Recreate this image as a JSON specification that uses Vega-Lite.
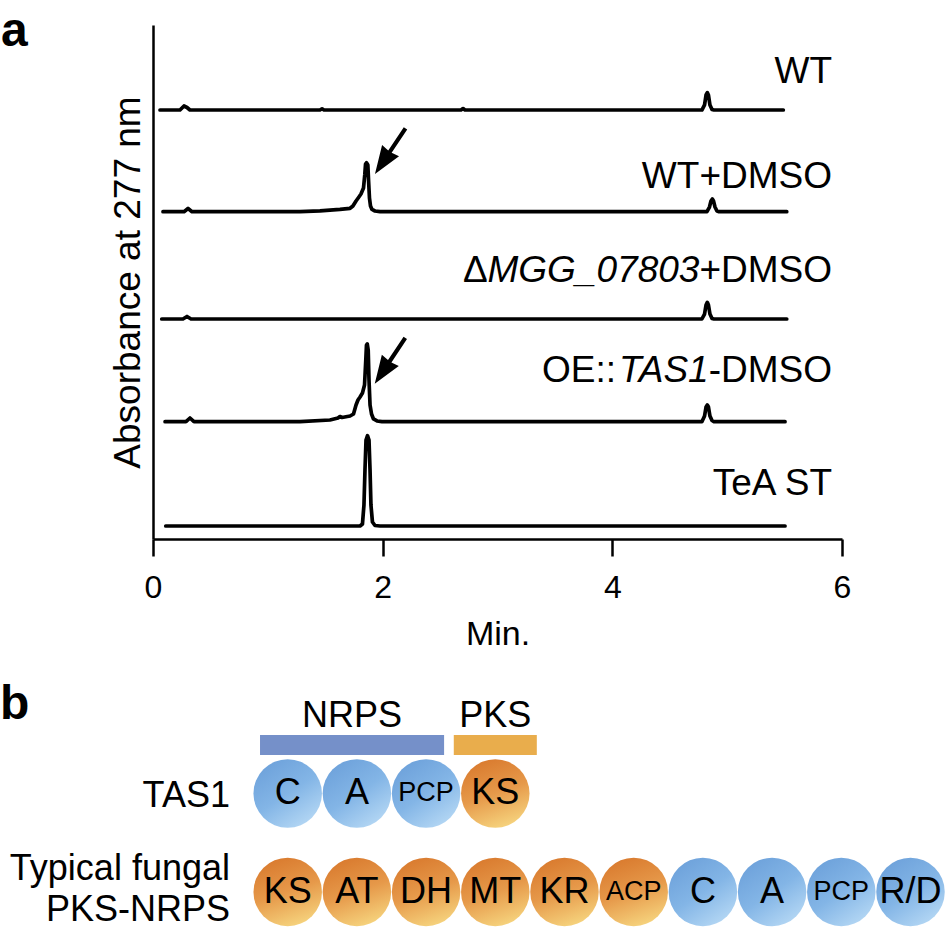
{
  "$schema": "https://vega.github.io/schema/vega-lite/v6.json",
  "padding": {"left": 0, "top": 8, "right": 0, "bottom": 0},
  "bounds": "flush",
  "spacing": 151,
  "config": {"font": "Liberation Sans", "view": {"stroke": null}, "axis": {"grid": false}},
  "datasets": {
    "traces": [
      {"sample": "WT", "t": 0.061, "v": 8.346}, {"sample": "WT", "t": 0.235, "v": 8.346}, {"sample": "WT", "t": 0.270, "v": 8.424}, {"sample": "WT", "t": 0.296, "v": 8.395}, {"sample": "WT", "t": 0.322, "v": 8.346}, {"sample": "WT", "t": 1.454, "v": 8.346}, {"sample": "WT", "t": 1.472, "v": 8.370}, {"sample": "WT", "t": 1.489, "v": 8.346}, {"sample": "WT", "t": 2.682, "v": 8.346}, {"sample": "WT", "t": 2.700, "v": 8.375}, {"sample": "WT", "t": 2.717, "v": 8.346}, {"sample": "WT", "t": 4.780, "v": 8.346}, {"sample": "WT", "t": 4.803, "v": 8.444}, {"sample": "WT", "t": 4.816, "v": 8.638}, {"sample": "WT", "t": 4.827, "v": 8.683}, {"sample": "WT", "t": 4.837, "v": 8.638}, {"sample": "WT", "t": 4.850, "v": 8.444}, {"sample": "WT", "t": 4.868, "v": 8.356}, {"sample": "WT", "t": 4.885, "v": 8.346}, {"sample": "WT", "t": 5.489, "v": 8.346},
      {"sample": "WT+DMSO", "t": 0.087, "v": 6.368}, {"sample": "WT+DMSO", "t": 0.270, "v": 6.368}, {"sample": "WT+DMSO", "t": 0.305, "v": 6.430}, {"sample": "WT+DMSO", "t": 0.340, "v": 6.368}, {"sample": "WT+DMSO", "t": 1.280, "v": 6.368}, {"sample": "WT+DMSO", "t": 1.454, "v": 6.385}, {"sample": "WT+DMSO", "t": 1.628, "v": 6.414}, {"sample": "WT+DMSO", "t": 1.716, "v": 6.434}, {"sample": "WT+DMSO", "t": 1.741, "v": 6.479}, {"sample": "WT+DMSO", "t": 1.768, "v": 6.576}, {"sample": "WT+DMSO", "t": 1.790, "v": 6.644}, {"sample": "WT+DMSO", "t": 1.811, "v": 6.712}, {"sample": "WT+DMSO", "t": 1.833, "v": 6.829}, {"sample": "WT+DMSO", "t": 1.844, "v": 7.082}, {"sample": "WT+DMSO", "t": 1.851, "v": 7.296}, {"sample": "WT+DMSO", "t": 1.859, "v": 7.321}, {"sample": "WT+DMSO", "t": 1.871, "v": 7.276}, {"sample": "WT+DMSO", "t": 1.877, "v": 6.984}, {"sample": "WT+DMSO", "t": 1.885, "v": 6.634}, {"sample": "WT+DMSO", "t": 1.894, "v": 6.479}, {"sample": "WT+DMSO", "t": 1.907, "v": 6.411}, {"sample": "WT+DMSO", "t": 1.933, "v": 6.381}, {"sample": "WT+DMSO", "t": 1.977, "v": 6.368}, {"sample": "WT+DMSO", "t": 4.824, "v": 6.368}, {"sample": "WT+DMSO", "t": 4.846, "v": 6.459}, {"sample": "WT+DMSO", "t": 4.859, "v": 6.576}, {"sample": "WT+DMSO", "t": 4.871, "v": 6.615}, {"sample": "WT+DMSO", "t": 4.881, "v": 6.576}, {"sample": "WT+DMSO", "t": 4.894, "v": 6.459}, {"sample": "WT+DMSO", "t": 4.911, "v": 6.381}, {"sample": "WT+DMSO", "t": 4.929, "v": 6.368}, {"sample": "WT+DMSO", "t": 5.519, "v": 6.368},
      {"sample": "dMGG", "t": 0.076, "v": 4.280}, {"sample": "dMGG", "t": 0.261, "v": 4.280}, {"sample": "dMGG", "t": 0.296, "v": 4.329}, {"sample": "dMGG", "t": 0.331, "v": 4.280}, {"sample": "dMGG", "t": 4.780, "v": 4.280}, {"sample": "dMGG", "t": 4.803, "v": 4.377}, {"sample": "dMGG", "t": 4.816, "v": 4.553}, {"sample": "dMGG", "t": 4.827, "v": 4.605}, {"sample": "dMGG", "t": 4.837, "v": 4.553}, {"sample": "dMGG", "t": 4.850, "v": 4.377}, {"sample": "dMGG", "t": 4.868, "v": 4.290}, {"sample": "dMGG", "t": 4.885, "v": 4.280}, {"sample": "dMGG", "t": 5.519, "v": 4.280},
      {"sample": "OE", "t": 0.105, "v": 2.282}, {"sample": "OE", "t": 0.287, "v": 2.282}, {"sample": "OE", "t": 0.322, "v": 2.354}, {"sample": "OE", "t": 0.357, "v": 2.282}, {"sample": "OE", "t": 1.280, "v": 2.282}, {"sample": "OE", "t": 1.541, "v": 2.315}, {"sample": "OE", "t": 1.611, "v": 2.354}, {"sample": "OE", "t": 1.628, "v": 2.383}, {"sample": "OE", "t": 1.646, "v": 2.364}, {"sample": "OE", "t": 1.716, "v": 2.393}, {"sample": "OE", "t": 1.746, "v": 2.432}, {"sample": "OE", "t": 1.768, "v": 2.607}, {"sample": "OE", "t": 1.785, "v": 2.704}, {"sample": "OE", "t": 1.803, "v": 2.763}, {"sample": "OE", "t": 1.824, "v": 2.840}, {"sample": "OE", "t": 1.842, "v": 2.996}, {"sample": "OE", "t": 1.853, "v": 3.482}, {"sample": "OE", "t": 1.859, "v": 3.774}, {"sample": "OE", "t": 1.866, "v": 3.794}, {"sample": "OE", "t": 1.874, "v": 3.677}, {"sample": "OE", "t": 1.881, "v": 3.093}, {"sample": "OE", "t": 1.890, "v": 2.607}, {"sample": "OE", "t": 1.903, "v": 2.432}, {"sample": "OE", "t": 1.920, "v": 2.335}, {"sample": "OE", "t": 1.951, "v": 2.296}, {"sample": "OE", "t": 1.994, "v": 2.282}, {"sample": "OE", "t": 4.780, "v": 2.282}, {"sample": "OE", "t": 4.803, "v": 2.393}, {"sample": "OE", "t": 4.816, "v": 2.568}, {"sample": "OE", "t": 4.827, "v": 2.607}, {"sample": "OE", "t": 4.837, "v": 2.568}, {"sample": "OE", "t": 4.850, "v": 2.393}, {"sample": "OE", "t": 4.868, "v": 2.305}, {"sample": "OE", "t": 4.885, "v": 2.282}, {"sample": "OE", "t": 5.504, "v": 2.282},
      {"sample": "TeA", "t": 0.111, "v": 0.253}, {"sample": "TeA", "t": 1.803, "v": 0.253}, {"sample": "TeA", "t": 1.824, "v": 0.292}, {"sample": "TeA", "t": 1.837, "v": 0.661}, {"sample": "TeA", "t": 1.846, "v": 1.342}, {"sample": "TeA", "t": 1.855, "v": 1.926}, {"sample": "TeA", "t": 1.868, "v": 2.010}, {"sample": "TeA", "t": 1.881, "v": 1.926}, {"sample": "TeA", "t": 1.890, "v": 1.342}, {"sample": "TeA", "t": 1.898, "v": 0.661}, {"sample": "TeA", "t": 1.911, "v": 0.331}, {"sample": "TeA", "t": 1.933, "v": 0.263}, {"sample": "TeA", "t": 1.977, "v": 0.253}, {"sample": "TeA", "t": 5.504, "v": 0.253}
    ],
    "sampleLabels": [
      {"text": "WT", "t": 5.913, "v": 8.866, "style": "normal"},
      {"text": "WT+DMSO", "t": 5.913, "v": 6.835, "style": "normal"},
      {"text": "Δ", "t": 2.915, "v": 5.006, "style": "normal"},
      {"text": "MGG_07803", "t": 4.758, "v": 5.006, "style": "italic"},
      {"text": "+DMSO", "t": 5.913, "v": 5.006, "style": "normal"},
      {"text": "OE::", "t": 4.033, "v": 3.052, "style": "normal"},
      {"text": "TAS1", "t": 4.839, "v": 3.052, "style": "italic"},
      {"text": "-DMSO", "t": 5.913, "v": 3.052, "style": "normal"},
      {"text": "TeA ST", "t": 5.913, "v": 0.856, "style": "normal"}
    ],
    "arrows": [
      {"target": "WT+DMSO peak", "t": 2.066, "v": 7.545},
      {"target": "OE peak", "t": 2.064, "v": 3.467}
    ],
    "panelA": [{"text": "a", "t": -1.324, "v": 9.591}],
    "domains": [
      {"protein": "TAS1", "row": 1, "pos": 1, "domain": "C", "type": "NRPS"},
      {"protein": "TAS1", "row": 1, "pos": 2, "domain": "A", "type": "NRPS"},
      {"protein": "TAS1", "row": 1, "pos": 3, "domain": "PCP", "type": "NRPS"},
      {"protein": "TAS1", "row": 1, "pos": 4, "domain": "KS", "type": "PKS"},
      {"protein": "Typical fungal PKS-NRPS", "row": 0, "pos": 1, "domain": "KS", "type": "PKS"},
      {"protein": "Typical fungal PKS-NRPS", "row": 0, "pos": 2, "domain": "AT", "type": "PKS"},
      {"protein": "Typical fungal PKS-NRPS", "row": 0, "pos": 3, "domain": "DH", "type": "PKS"},
      {"protein": "Typical fungal PKS-NRPS", "row": 0, "pos": 4, "domain": "MT", "type": "PKS"},
      {"protein": "Typical fungal PKS-NRPS", "row": 0, "pos": 5, "domain": "KR", "type": "PKS"},
      {"protein": "Typical fungal PKS-NRPS", "row": 0, "pos": 6, "domain": "ACP", "type": "PKS"},
      {"protein": "Typical fungal PKS-NRPS", "row": 0, "pos": 7, "domain": "C", "type": "NRPS"},
      {"protein": "Typical fungal PKS-NRPS", "row": 0, "pos": 8, "domain": "A", "type": "NRPS"},
      {"protein": "Typical fungal PKS-NRPS", "row": 0, "pos": 9, "domain": "PCP", "type": "NRPS"},
      {"protein": "Typical fungal PKS-NRPS", "row": 0, "pos": 10, "domain": "R/D", "type": "NRPS"}
    ],
    "modules": [
      {"group": "NRPS", "start": 0.6, "end": 3.26, "mid": 1.93, "top": 1.594, "bottom": 1.391, "ly": 1.675},
      {"group": "PKS", "start": 3.4, "end": 4.6, "mid": 4.0, "top": 1.594, "bottom": 1.391, "ly": 1.675}
    ],
    "rowLabels": [
      {"text": "TAS1", "pos": 0.166, "row": 0.863},
      {"text": "Typical fungal", "pos": 0.166, "row": 0.122},
      {"text": "PKS-NRPS", "pos": 0.166, "row": -0.294}
    ],
    "panelB": [{"text": "b", "pos": -3.157, "row": 1.756}]
  },
  "vconcat": [
    {
      "width": 689,
      "height": 514,
      "encoding": {
        "x": {"field": "t", "type": "quantitative", "scale": {"domain": [0, 6], "nice": false, "zero": false},
          "axis": {"values": [0, 2, 4, 6], "title": "Min.", "grid": false, "tickSize": 17, "tickWidth": 2.5, "tickColor": "#000", "domainColor": "#000", "domainWidth": 2.5, "labelFontSize": 32, "labelColor": "#000", "labelPadding": 16, "labelFlush": false, "titleFontSize": 34, "titleFontWeight": "normal", "titleColor": "#000", "titlePadding": 14}},
        "y": {"field": "v", "type": "quantitative", "scale": {"domain": [0, 10], "nice": false, "zero": false},
          "axis": {"title": "Absorbance at 277 nm", "grid": false, "ticks": false, "labels": false, "domainColor": "#000", "domainWidth": 2.5, "titleFontSize": 37, "titleFontWeight": "normal", "titleColor": "#000", "titlePadding": 6}}
      },
      "layer": [
        {
          "data": {"name": "traces"},
          "mark": {"type": "line", "color": "#000", "strokeWidth": 3.7, "strokeJoin": "round", "strokeCap": "round"},
          "encoding": {"detail": {"field": "sample", "type": "nominal"}, "order": {"field": "t", "type": "quantitative"}}
        },
        {
          "data": {"name": "arrows"},
          "mark": {"type": "point", "shape": "M0,-1L0.37,0.02L0.075,-0.02L0.075,1L-0.075,1L-0.075,-0.02L-0.37,0.02Z", "size": 3025, "angle": 213.7, "filled": true, "color": "#000", "opacity": 1, "strokeWidth": 0}
        },
        {
          "data": {"name": "sampleLabels"},
          "transform": [{"filter": "datum.style === 'normal'"}],
          "mark": {"type": "text", "align": "right", "baseline": "alphabetic", "fontSize": 37, "color": "#000"},
          "encoding": {"text": {"field": "text"}}
        },
        {
          "data": {"name": "sampleLabels"},
          "transform": [{"filter": "datum.style === 'italic'"}],
          "mark": {"type": "text", "align": "right", "baseline": "alphabetic", "fontSize": 37, "fontStyle": "italic", "color": "#000"},
          "encoding": {"text": {"field": "text"}}
        },
        {
          "data": {"name": "panelA"},
          "mark": {"type": "text", "align": "left", "baseline": "alphabetic", "fontSize": 48, "fontWeight": "bold", "color": "#000"},
          "encoding": {"text": {"field": "text"}}
        }
      ]
    },
    {
      "width": 793,
      "height": 239,
      "layer": [
        {
          "data": {"name": "modules"},
          "mark": {"type": "rect"},
          "encoding": {
            "x": {"field": "start", "type": "quantitative", "scale": {"domain": [-0.9465, 10.513], "nice": false, "zero": false}, "axis": null},
            "x2": {"field": "end"},
            "y": {"field": "top", "type": "quantitative", "scale": {"domain": [-0.376, 2.051], "nice": false, "zero": false}, "axis": null},
            "y2": {"field": "bottom"},
            "color": {"field": "group", "type": "nominal", "scale": {"domain": ["NRPS", "PKS"], "range": ["#7590C9", "#E9AD4C"]}, "legend": null}
          }
        },
        {
          "data": {"name": "modules"},
          "mark": {"type": "text", "align": "center", "baseline": "alphabetic", "fontSize": 36, "color": "#000"},
          "encoding": {
            "x": {"field": "mid", "type": "quantitative", "axis": null},
            "y": {"field": "ly", "type": "quantitative", "axis": null},
            "text": {"field": "group"}
          }
        },
        {
          "data": {"name": "domains"},
          "transform": [{"filter": "datum.type === 'NRPS'"}],
          "mark": {"type": "point", "shape": "circle", "size": 4692, "filled": true, "opacity": 1, "strokeWidth": 0,
            "fill": {"gradient": "linear", "x1": 0.2, "y1": 0.05, "x2": 0.8, "y2": 0.95, "stops": [{"offset": 0, "color": "#6EA2DB"}, {"offset": 0.5, "color": "#83B5E6"}, {"offset": 1, "color": "#B4D7F4"}]}},
          "encoding": {
            "x": {"field": "pos", "type": "quantitative", "axis": null},
            "y": {"field": "row", "type": "quantitative", "axis": null}
          }
        },
        {
          "data": {"name": "domains"},
          "transform": [{"filter": "datum.type === 'PKS'"}],
          "mark": {"type": "point", "shape": "circle", "size": 4692, "filled": true, "opacity": 1, "strokeWidth": 0,
            "fill": {"gradient": "linear", "x1": 0.3, "y1": 0.0, "x2": 0.65, "y2": 1.0, "stops": [{"offset": 0, "color": "#D97A2E"}, {"offset": 0.5, "color": "#E6994A"}, {"offset": 1, "color": "#F6D47E"}]}},
          "encoding": {
            "x": {"field": "pos", "type": "quantitative", "axis": null},
            "y": {"field": "row", "type": "quantitative", "axis": null}
          }
        },
        {
          "data": {"name": "domains"},
          "transform": [{"filter": "datum.domain !== 'PCP' && datum.domain !== 'ACP'"}],
          "mark": {"type": "text", "align": "center", "baseline": "middle", "fontSize": 36, "color": "#000"},
          "encoding": {
            "x": {"field": "pos", "type": "quantitative", "axis": null},
            "y": {"field": "row", "type": "quantitative", "axis": null},
            "text": {"field": "domain"}
          }
        },
        {
          "data": {"name": "domains"},
          "transform": [{"filter": "datum.domain === 'PCP' || datum.domain === 'ACP'"}],
          "mark": {"type": "text", "align": "center", "baseline": "middle", "fontSize": 27, "color": "#000"},
          "encoding": {
            "x": {"field": "pos", "type": "quantitative", "axis": null},
            "y": {"field": "row", "type": "quantitative", "axis": null},
            "text": {"field": "domain"}
          }
        },
        {
          "data": {"name": "rowLabels"},
          "mark": {"type": "text", "align": "right", "baseline": "alphabetic", "fontSize": 36, "color": "#000"},
          "encoding": {
            "x": {"field": "pos", "type": "quantitative", "axis": null},
            "y": {"field": "row", "type": "quantitative", "axis": null},
            "text": {"field": "text"}
          }
        },
        {
          "data": {"name": "panelB"},
          "mark": {"type": "text", "align": "left", "baseline": "alphabetic", "fontSize": 48, "fontWeight": "bold", "color": "#000"},
          "encoding": {
            "x": {"field": "pos", "type": "quantitative", "axis": null},
            "y": {"field": "row", "type": "quantitative", "axis": null},
            "text": {"field": "text"}
          }
        }
      ]
    }
  ]
}
